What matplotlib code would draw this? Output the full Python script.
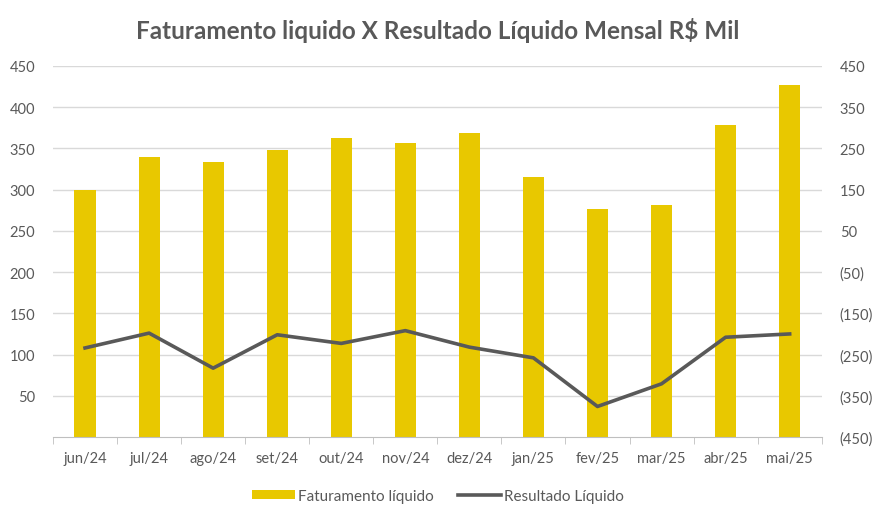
import matplotlib.pyplot as plt
import numpy as np
from matplotlib.ticker import FuncFormatter

plt.rcParams['font.family'] = ['Lato', 'DejaVu Sans']

meses = ['jun/24', 'jul/24', 'ago/24', 'set/24', 'out/24', 'nov/24',
         'dez/24', 'jan/25', 'fev/25', 'mar/25', 'abr/25', 'mai/25']
faturamento = [299, 340, 333, 348, 363, 357, 369, 315, 276, 282, 379, 427]
resultado = [-234, -198, -283, -202, -223, -192, -232, -258, -376, -321, -208, -200]

cinza = '#595959'
amarelo = '#E8C800'

fig = plt.figure(figsize=(8.76, 5.06), dpi=100)
a = fig.add_axes([0.0605, 0.1344, 0.8775, 0.7332])
x = np.arange(len(meses))

a.bar(x, faturamento, width=0.33, color=amarelo, label='Faturamento líquido', zorder=2)
a.set_xlim(-0.5, len(meses) - 0.5)
a.set_ylim(0, 450)
a.set_yticks(np.arange(50, 451, 50))
a.yaxis.grid(True, color='#D9D9D9', linewidth=1.0, zorder=0)
a.set_axisbelow(True)
for s in ['top', 'right', 'left']:
    a.spines[s].set_visible(False)
a.spines['bottom'].set_color('#BFBFBF')
a.tick_params(axis='y', length=0, pad=13, labelsize=10.5, labelcolor=cinza)
a.set_xticks(x)
a.set_xticklabels(meses)
a.set_xticks(np.arange(-0.5, len(meses), 1), minor=True)
a.tick_params(axis='x', which='major', length=0, pad=10, labelsize=10.5, labelcolor=cinza)
a.tick_params(axis='x', which='minor', length=5, color='#BFBFBF')

b = a.twinx()
b.plot(x, resultado, color=cinza, linewidth=2.6, label='Resultado Líquido', zorder=3)
b.set_ylim(-450, 450)
b.set_yticks(np.arange(-450, 451, 100))
b.yaxis.set_major_formatter(FuncFormatter(lambda v, p: '(%d)' % abs(v) if v < 0 else '%d' % v))
for s in ['top', 'right', 'left', 'bottom']:
    b.spines[s].set_visible(False)
b.tick_params(axis='y', length=0, pad=13, labelsize=10.5, labelcolor=cinza)

handles = a.get_legend_handles_labels()[0] + b.get_legend_handles_labels()[0]
labels = a.get_legend_handles_labels()[1] + b.get_legend_handles_labels()[1]
fig.legend(handles, labels, loc='center', bbox_to_anchor=(0.5, 0.018), ncol=2,
           frameon=False, fontsize=11, labelcolor=cinza, handlelength=2.8,
           handleheight=0.6, handletextpad=0.2, columnspacing=1.6)

fig.suptitle('Faturamento liquido X Resultado Líquido Mensal R$ Mil', x=0.5, y=0.965,
             fontsize=17.5, fontweight='bold', color=cinza)

fig.savefig('out.png', dpi=100)
